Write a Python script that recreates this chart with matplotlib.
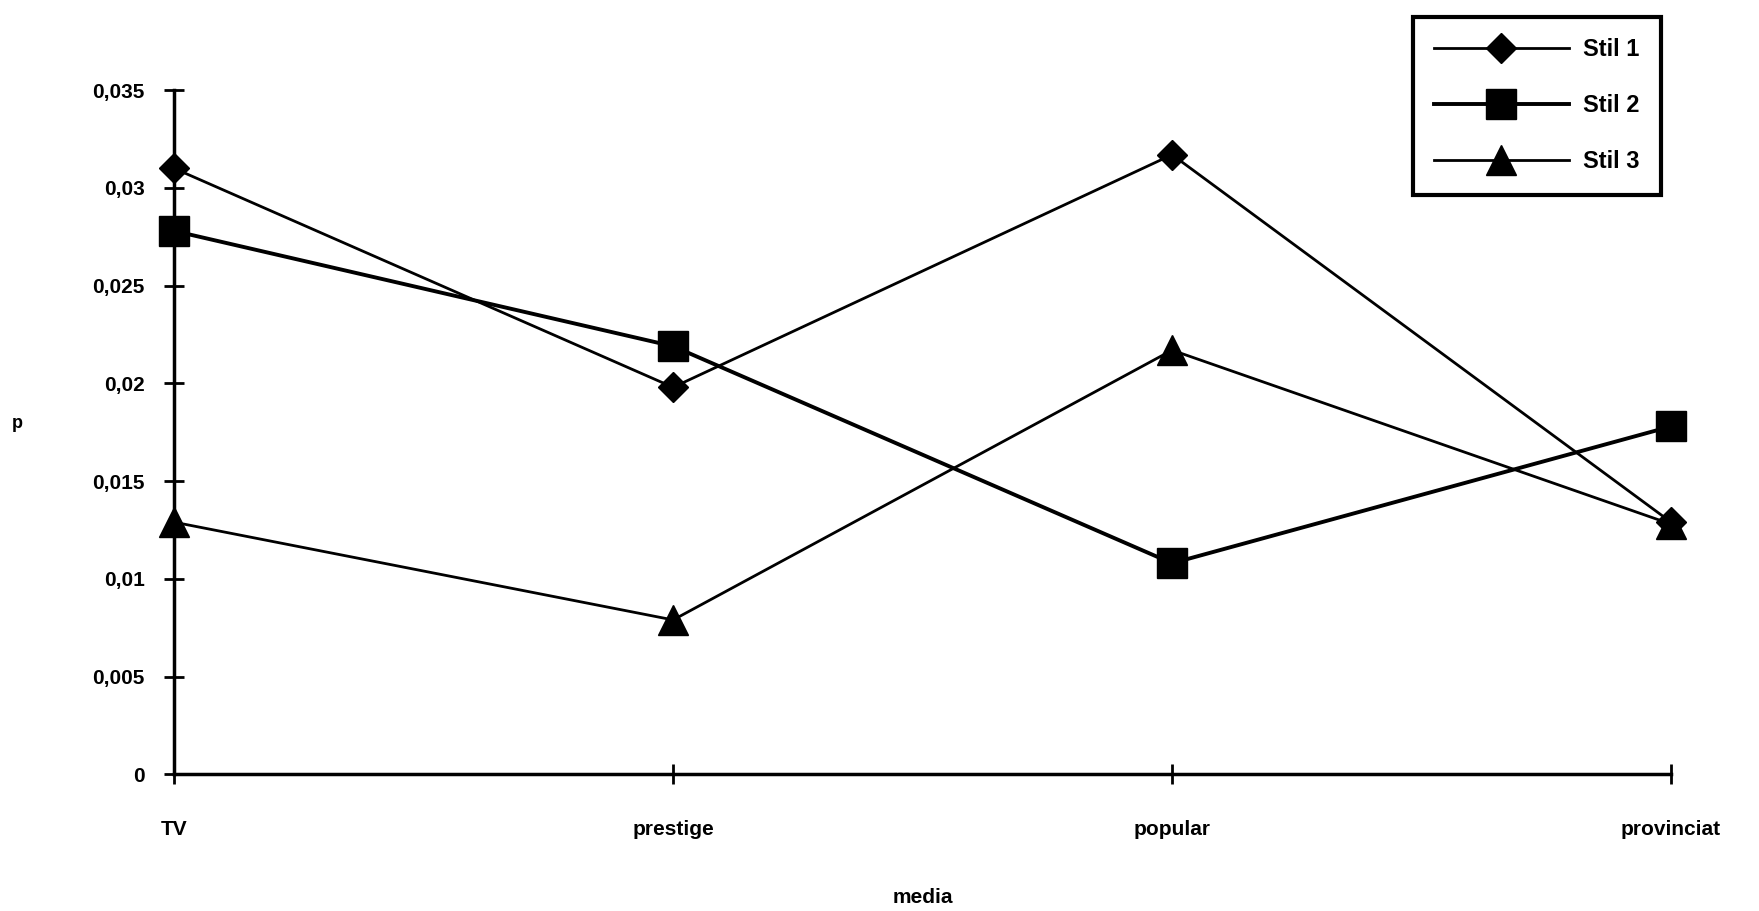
import matplotlib
matplotlib.use("Agg")
import matplotlib.pyplot as plt

# data
media = ["TV", "prestige", "popular", "provinciat"]
stil1 = [0.0310, 0.0198, 0.0317, 0.0129]
stil2 = [0.0278, 0.0219, 0.0108, 0.0178]
stil3 = [0.0129, 0.0079, 0.0217, 0.0128]
yticks = [0, 0.005, 0.01, 0.015, 0.02, 0.025, 0.03, 0.035]
ytick_labels = ["0", "0,005", "0,01", "0,015", "0,02", "0,025", "0,03", "0,035"]

plt.rcParams['font.family'] = ['Liberation Sans', 'DejaVu Sans']
plt.rcParams['font.weight'] = 'bold'

fig = plt.figure(figsize=(17.59, 9.11), dpi=100)
ax = fig.add_axes([0.099, 0.150, 0.851, 0.751])

x = list(range(len(media)))
ax.plot(x, stil1, color='black', lw=2, marker='D', ms=15, label='Stil 1', clip_on=False, zorder=3)
ax.plot(x, stil2, color='black', lw=2.8, marker='s', ms=21, label='Stil 2', clip_on=False, zorder=3)
ax.plot(x, stil3, color='black', lw=2, marker='^', ms=21, label='Stil 3', clip_on=False, zorder=3)

ax.set_xlim(0, 3)
ax.set_ylim(0, 0.035)
ax.set_xticks(x)
ax.set_xticklabels(media)
ax.set_yticks(yticks)
ax.set_yticklabels(ytick_labels)

for s in ['top', 'right']:
    ax.spines[s].set_visible(False)
for s in ['left', 'bottom']:
    ax.spines[s].set_linewidth(2.5)
ax.tick_params(axis='both', direction='inout', length=14, width=2,
               labelsize=15)
ax.tick_params(axis='y', pad=14)
ax.tick_params(axis='x', pad=26)
for lab in ax.get_xticklabels() + ax.get_yticklabels():
    lab.set_fontweight('bold')

ax.set_xlabel("media", fontsize=15, fontweight='bold', labelpad=35)
ax.set_ylabel("p", fontsize=13, fontweight='bold', rotation=0)
ax.yaxis.set_label_coords(-0.105, 0.5)

leg = ax.legend(loc='upper right', bbox_to_anchor=(0.993, 1.107), fontsize=17,
                frameon=True, fancybox=False, edgecolor='black', framealpha=1,
                handlelength=5.7, handletextpad=0.6, labelspacing=1.4,
                borderpad=0.9, borderaxespad=0)
leg.get_frame().set_linewidth(3)
for t in leg.get_texts():
    t.set_fontweight('bold')

fig.savefig("out.png", dpi=100)
